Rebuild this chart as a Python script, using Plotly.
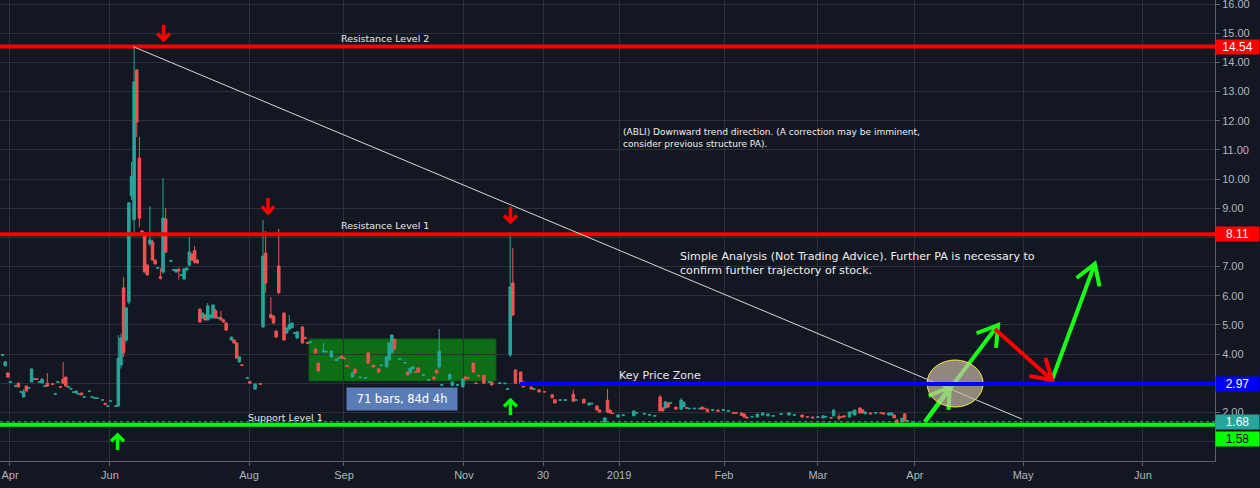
import math
import plotly.graph_objects as go

# ---------------- data (bar index, OHLC) ----------------
bar = [1, 2, 3, 4, 6, 7, 8, 9, 10, 11,
       12, 13, 14, 15, 16, 17, 18, 20, 21, 22,
       23, 24, 25, 26, 27, 28, 29, 30, 31, 32,
       34, 35, 36, 37, 39, 40, 41, 42, 44, 45,
       46, 47, 48, 49, 50, 51, 52, 53, 54, 55,
       56, 57, 58, 59, 60, 61, 62, 63, 65, 66,
       67, 68, 69, 70, 71, 72, 73, 74, 75, 76,
       77, 78, 79, 80, 81, 82, 83, 84, 85, 86,
       88, 89, 90, 91, 92, 94, 95, 97, 99, 100,
       101, 103, 104, 105, 106, 108, 109, 110, 111, 112,
       113, 115, 116, 117, 118, 120, 121, 123, 124, 126,
       128, 129, 130, 131, 132, 134, 135, 137, 139, 140,
       142, 144, 145, 147, 148, 149, 150, 152, 154, 155,
       156, 157, 158, 159, 161, 163, 165, 166, 167, 168,
       171, 172, 174, 176, 177, 178, 180, 181, 182, 184,
       186, 187, 190, 192, 193, 194, 195, 196, 198, 199,
       200, 202, 203, 205, 207, 210, 211, 213, 215, 218,
       219, 222, 224, 225, 227, 228, 230, 231, 232, 233,
       235, 237, 241, 242, 245, 247, 249, 251, 252, 253,
       254, 255, 257, 259, 260, 261, 262, 264, 266, 267,
       268, 269, 271, 273, 275, 277, 279, 280, 282, 283,
       284, 286, 288, 290, 292, 294, 297, 300, 302, 305,
       307, 309, 311, 313, 314, 316, 317, 319, 320, 321,
       323, 324, 325, 327, 328, 329, 331, 333, 335, 336,
       338, 339, 340, 341, 343, 344, 345, 347]

open_ = [3.95, 3.60, 3.35, 3.02, 2.89, 3.00, 2.69, 2.53, 2.90, 2.83,
         3.04, 3.13, 3.15, 3.03, 3.01, 2.89, 3.00, 2.98, 2.62, 3.03,
         2.88, 3.14, 3.21, 2.86, 2.80, 2.69, 2.66, 2.62, 2.66, 2.52,
         2.72, 2.52, 2.48, 2.48, 2.42, 2.31, 2.21, 2.38, 2.21, 2.22,
         3.62, 6.27, 4.48, 5.78, 9.42, 8.60, 13.74, 10.72, 8.22, 8.15,
         7.05, 7.78, 7.84, 7.22, 6.94, 6.65, 6.81, 8.63, 7.18, 6.87,
         6.81, 6.90, 6.70, 6.57, 6.88, 7.05, 7.43, 7.55, 7.22, 5.54,
         5.24, 5.34, 5.17, 5.24, 5.24, 5.48, 5.23, 5.24, 5.17, 5.06,
         4.48, 4.48, 4.38, 3.73, 3.63, 3.17, 3.06, 2.80, 2.98, 4.93,
         7.46, 5.35, 5.30, 4.79, 7.02, 5.40, 4.72, 4.86, 4.90, 4.71,
         4.55, 4.93, 4.57, 4.40, 4.40, 4.17, 3.69, 4.08, 4.07, 3.90,
         3.77, 3.85, 3.93, 3.86, 3.60, 3.21, 3.48, 3.19, 3.17, 4.04,
         3.62, 3.49, 3.60, 3.56, 3.80, 4.04, 4.50, 3.82, 3.69, 3.38,
         3.35, 3.49, 3.39, 3.52, 3.27, 3.10, 3.21, 3.45, 3.56, 2.93,
         3.14, 2.92, 2.93, 2.87, 3.21, 3.19, 3.69, 3.01, 3.27, 3.27,
         3.03, 3.04, 2.99, 2.98, 2.79, 3.97, 6.44, 3.45, 3.38, 3.04,
         2.95, 2.87, 2.79, 2.77, 2.71, 2.60, 2.43, 2.41, 2.41, 2.62,
         2.41, 2.45, 2.25, 2.29, 2.22, 2.08, 1.67, 2.42, 2.08, 1.97,
         1.84, 1.89, 1.88, 1.97, 1.94, 1.90, 1.87, 2.53, 2.15, 2.15,
         2.32, 2.31, 2.18, 2.11, 2.20, 2.16, 2.12, 2.12, 2.12, 2.18,
         2.14, 2.11, 2.07, 2.08, 2.07, 2.04, 2.00, 1.99, 1.98, 1.94,
         1.84, 1.84, 1.84, 1.91, 1.88, 1.87, 1.93, 1.91, 1.90, 1.91,
         1.85, 1.84, 1.83, 1.81, 1.84, 1.82, 1.88, 1.85, 1.85, 1.88,
         1.84, 1.98, 1.91, 2.15, 2.08, 1.95, 1.98, 1.97, 1.99, 1.98,
         1.91, 1.91, 1.91, 1.74, 1.67, 1.95, 1.69, 1.67]

high = [3.99, 3.76, 3.38, 3.06, 2.92, 3.02, 2.72, 2.80, 2.92, 2.85,
        3.50, 3.16, 3.16, 3.05, 3.15, 2.91, 3.35, 2.99, 2.64, 3.05,
        2.89, 3.73, 3.22, 2.88, 2.81, 2.71, 2.74, 2.64, 2.68, 2.54,
        2.74, 2.54, 2.50, 2.50, 2.44, 2.33, 2.23, 2.40, 2.23, 4.65,
        4.70, 6.64, 5.60, 9.20, 10.58, 14.59, 13.76, 11.44, 8.24, 8.17,
        7.07, 9.07, 7.92, 7.24, 6.96, 6.95, 10.04, 9.00, 7.20, 6.89,
        6.92, 6.97, 6.72, 6.93, 6.96, 8.01, 7.45, 7.70, 7.24, 5.56,
        5.42, 5.36, 5.75, 5.36, 5.70, 5.55, 5.25, 5.48, 5.19, 5.08,
        4.60, 4.50, 4.40, 3.92, 3.64, 3.19, 3.08, 2.99, 2.99, 8.60,
        8.22, 5.95, 5.32, 4.81, 8.29, 5.45, 4.91, 5.34, 5.08, 4.73,
        4.78, 4.95, 4.59, 4.42, 4.43, 4.19, 3.71, 4.38, 4.10, 4.12,
        3.85, 3.87, 3.95, 3.87, 3.61, 3.37, 3.50, 3.21, 3.19, 4.06,
        3.64, 3.51, 3.62, 3.92, 4.40, 4.67, 4.52, 3.84, 3.71, 3.40,
        3.54, 3.57, 3.40, 3.54, 3.29, 3.12, 3.23, 3.47, 4.86, 2.95,
        3.33, 3.06, 2.95, 3.16, 3.23, 3.20, 3.71, 3.02, 3.28, 3.29,
        3.05, 3.06, 3.01, 3.00, 2.82, 8.18, 7.64, 3.47, 3.40, 3.06,
        2.96, 2.89, 2.81, 2.79, 2.72, 2.62, 2.45, 2.43, 2.43, 2.77,
        2.43, 2.47, 2.33, 2.31, 2.24, 2.09, 1.82, 2.80, 2.10, 1.98,
        1.92, 1.91, 2.06, 1.99, 1.96, 1.92, 1.89, 2.60, 2.17, 2.37,
        2.34, 2.33, 2.20, 2.49, 2.36, 2.17, 2.14, 2.14, 2.14, 2.20,
        2.15, 2.12, 2.09, 2.09, 2.09, 2.06, 2.01, 2.00, 1.99, 1.95,
        1.85, 1.86, 1.95, 1.99, 1.95, 1.89, 1.95, 1.99, 1.92, 1.92,
        1.86, 1.85, 1.85, 1.89, 1.86, 1.83, 2.09, 1.95, 1.86, 1.89,
        2.02, 2.02, 2.09, 2.17, 2.10, 2.02, 1.99, 1.99, 2.00, 1.99,
        1.99, 1.99, 1.92, 1.75, 1.81, 1.97, 1.71, 1.69]

low = [3.93, 3.58, 3.19, 3.01, 2.88, 2.86, 2.68, 2.52, 2.72, 2.83,
       3.03, 3.12, 3.12, 3.02, 3.00, 2.88, 2.88, 2.95, 2.61, 3.02,
       2.85, 2.99, 2.89, 2.85, 2.79, 2.68, 2.65, 2.61, 2.59, 2.51,
       2.71, 2.51, 2.47, 2.47, 2.41, 2.27, 2.20, 2.37, 2.20, 2.20,
       3.50, 3.90, 4.40, 5.70, 9.28, 8.08, 11.44, 8.36, 8.16, 6.79,
       6.69, 7.70, 7.20, 7.07, 6.93, 6.55, 6.75, 7.45, 7.17, 6.86,
       6.80, 6.55, 6.69, 6.55, 6.87, 7.00, 7.20, 7.10, 7.10, 5.08,
       5.22, 5.15, 5.15, 5.22, 5.22, 5.22, 5.22, 5.15, 5.08, 4.80,
       4.46, 4.36, 3.84, 3.71, 3.60, 3.16, 2.99, 2.78, 2.96, 4.90,
       6.10, 5.20, 5.04, 4.56, 6.05, 4.45, 4.70, 4.80, 4.88, 4.70,
       4.53, 4.36, 4.52, 4.34, 4.39, 4.02, 3.40, 4.05, 4.06, 3.88,
       3.76, 3.84, 3.84, 3.83, 3.57, 3.20, 3.33, 3.18, 3.16, 3.67,
       3.55, 3.37, 3.59, 3.54, 3.78, 4.02, 4.15, 3.81, 3.68, 3.27,
       3.34, 3.48, 3.36, 3.37, 3.26, 3.09, 3.13, 3.34, 3.50, 2.92,
       3.12, 2.91, 2.92, 2.86, 3.13, 3.16, 3.37, 2.98, 3.24, 2.99,
       3.02, 2.93, 2.98, 2.97, 2.78, 3.90, 5.30, 2.99, 2.99, 2.86,
       2.93, 2.79, 2.78, 2.69, 2.69, 2.49, 2.31, 2.40, 2.40, 2.35,
       2.40, 2.31, 2.24, 2.28, 2.07, 2.00, 1.66, 1.98, 1.97, 1.95,
       1.83, 1.88, 1.87, 1.96, 1.93, 1.89, 1.86, 2.04, 2.04, 2.14,
       2.17, 2.30, 2.10, 2.10, 2.19, 2.14, 2.11, 2.11, 2.11, 2.10,
       2.12, 2.01, 2.06, 2.03, 2.06, 2.03, 1.96, 1.97, 1.88, 1.83,
       1.80, 1.83, 1.83, 1.90, 1.87, 1.86, 1.92, 1.90, 1.89, 1.83,
       1.83, 1.80, 1.82, 1.80, 1.83, 1.80, 1.87, 1.72, 1.83, 1.84,
       1.83, 1.97, 1.90, 1.97, 1.97, 1.94, 1.94, 1.96, 1.97, 1.94,
       1.90, 1.90, 1.80, 1.63, 1.66, 1.69, 1.68, 1.66]

close = [3.98, 3.73, 3.21, 3.05, 2.91, 2.87, 2.71, 2.70, 2.73, 2.85,
         3.49, 3.15, 3.13, 3.05, 3.14, 2.90, 2.90, 2.96, 2.64, 3.05,
         2.86, 3.00, 2.90, 2.88, 2.81, 2.70, 2.73, 2.63, 2.60, 2.53,
         2.73, 2.53, 2.49, 2.49, 2.43, 2.28, 2.22, 2.39, 2.22, 3.86,
         4.55, 4.04, 5.58, 9.18, 10.10, 13.33, 11.95, 8.66, 8.18, 6.81,
         6.71, 7.91, 7.22, 7.09, 6.96, 6.60, 8.66, 7.50, 7.20, 6.89,
         6.90, 6.85, 6.72, 6.92, 6.95, 7.50, 7.22, 7.15, 7.12, 5.10,
         5.40, 5.17, 5.65, 5.34, 5.68, 5.24, 5.25, 5.17, 5.10, 4.82,
         4.58, 4.38, 3.86, 3.90, 3.61, 3.19, 3.00, 2.97, 2.97, 7.36,
         6.44, 5.25, 5.06, 4.58, 6.10, 4.48, 4.89, 5.00, 5.06, 4.73,
         4.76, 4.38, 4.53, 4.36, 4.42, 4.04, 3.42, 4.10, 4.09, 4.10,
         3.83, 3.87, 3.86, 3.84, 3.58, 3.35, 3.35, 3.21, 3.19, 3.69,
         3.56, 3.38, 3.62, 3.90, 4.38, 4.65, 4.17, 3.84, 3.71, 3.28,
         3.52, 3.56, 3.37, 3.38, 3.29, 3.12, 3.14, 3.35, 4.10, 2.95,
         3.31, 3.04, 2.95, 3.14, 3.14, 3.17, 3.38, 2.99, 3.25, 3.00,
         3.05, 2.94, 3.01, 3.00, 2.81, 6.30, 5.34, 3.00, 3.00, 2.87,
         2.94, 2.80, 2.81, 2.70, 2.70, 2.50, 2.32, 2.43, 2.43, 2.38,
         2.43, 2.32, 2.32, 2.31, 2.08, 2.01, 1.81, 2.02, 1.98, 1.96,
         1.91, 1.91, 2.05, 1.99, 1.96, 1.92, 1.89, 2.05, 2.05, 2.36,
         2.18, 2.33, 2.11, 2.42, 2.35, 2.15, 2.14, 2.14, 2.14, 2.11,
         2.13, 2.02, 2.09, 2.04, 2.09, 2.06, 1.97, 1.98, 1.89, 1.84,
         1.81, 1.86, 1.94, 1.98, 1.94, 1.89, 1.95, 1.98, 1.92, 1.84,
         1.84, 1.81, 1.85, 1.88, 1.86, 1.81, 2.08, 1.80, 1.84, 1.85,
         2.01, 2.01, 2.08, 1.98, 1.98, 2.01, 1.95, 1.99, 1.98, 1.95,
         1.98, 1.98, 1.81, 1.64, 1.80, 1.70, 1.71, 1.68]

tick_bars = [3.8, 41.8, 94.7, 130.8, 176.4, 206.5, 235.4, 275.3, 311.0, 347.9, 389.0, 434.6]
tick_text = ["Apr", "Jun", "Aug", "Sep", "Nov", "30", "2019", "Feb", "Mar", "Apr", "May", "Jun"]

price_ticks = list(range(1, 17))
hidden_price_ticks = [1, 3, 8]   # covered by the price-scale labels

level_names = ["Resistance Level 2", "Resistance Level 1", "Support Level 1"]
level_prices = [14.54, 8.11, 1.58]
level_colors = ["#ff0000", "#ff0000", "#00ff00"]
level_label_pos = [(146.4, 14.83), (146.4, 8.39), (108.4, 1.84)]

key_zone_price = 2.97
key_zone_start = 197.7
last_price = 1.68

trend_start = (50.6, 14.54)
trend_end = (388.6, 1.77)

range_box = dict(x0=117.5, x1=188.6, y0=3.077, y1=4.515)
range_label = "71 bars, 84d 4h"
range_label_pos = (152.9, 2.46)

down_arrow_tips = [(62.2, 14.77), (101.9, 8.84), (194.1, 8.53)]
up_arrow_tips = [(44.7, 1.225), (194.1, 2.42)]

# projected path arrows: (tail, tip)
green_arrows = [((351.7, 1.67), (361.2, 2.87)), ((351.7, 1.67), (379.5, 4.995)), ((400.0, 3.11), (416.3, 7.09))]
red_arrows = [((378.3, 4.86), (400.0, 3.11))]
ellipse_box = dict(x0=352.5, x1=373.8, y0=2.184, y1=3.795)

note1 = "(ABLI) Downward trend direction. (A correction may be imminent,<br>consider previous structure PA)."
note1_pos = (236.3, 11.85)
note2 = "Simple Analysis (Not Trading Advice). Further PA is necessary to<br>confirm further trajectory of stock."
note2_pos = (257.8, 7.64)

# ---------------- layout geometry ----------------
W, H = 1260, 488
ML, MR, MT, MB = 0, 45, 0, 27
X_RANGE = [0, 462]
Y_RANGE = [0.333, 16.137]
PXX = (W - ML - MR) / (X_RANGE[1] - X_RANGE[0])
PXY = (H - MT - MB) / (Y_RANGE[1] - Y_RANGE[0])

BG = "#131722"
GRID = "#2c303c"
TXT = "#b2b5be"
UP = "#26a69a"
DN = "#ef5350"


def to_px(x, y):
    return x * PXX, -y * PXY


def to_data(px, py):
    return px / PXX, -py / PXY


def legs(tip, tail, L, ang):
    tx, ty = to_px(*tip)
    bx, by = to_px(*tail)
    dx, dy = bx - tx, by - ty
    n = math.hypot(dx, dy)
    ux, uy = dx / n, dy / n
    out = []
    for s in (1, -1):
        a = math.radians(ang) * s
        rx = ux * math.cos(a) - uy * math.sin(a)
        ry = ux * math.sin(a) + uy * math.cos(a)
        out.append(to_data(tx + L * rx, ty + L * ry))
    return out


def arrow_path(pairs, L, ang):
    xs, ys = [], []
    for tail, tip in pairs:
        xs += [tail[0], tip[0], None]
        ys += [tail[1], tip[1], None]
        a, b = legs(tip, tail, L, ang)
        xs += [a[0], tip[0], b[0], None]
        ys += [a[1], tip[1], b[1], None]
    return xs, ys


fig = go.Figure()

fig.add_trace(go.Candlestick(
    x=bar, open=open_, high=high, low=low, close=close,
    increasing=dict(line=dict(color=UP, width=1), fillcolor=UP),
    decreasing=dict(line=dict(color=DN, width=1), fillcolor=DN),
    whiskerwidth=0, hoverinfo="skip", showlegend=False,
))

# projected arrows
gx, gy = arrow_path(green_arrows, 23, 32)
fig.add_trace(go.Scatter(x=gx, y=gy, mode="lines", line=dict(color="#1aff1a", width=4),
                         hoverinfo="skip", showlegend=False))
rx, ry = arrow_path(red_arrows, 23, 32)
fig.add_trace(go.Scatter(x=rx, y=ry, mode="lines", line=dict(color="#ff0000", width=4),
                         hoverinfo="skip", showlegend=False))

# small marker arrows
small = []
for tip in down_arrow_tips:
    small.append(((tip[0], tip[1] + 15 / PXY), tip))
sx, sy = arrow_path(small, 9, 45)
fig.add_trace(go.Scatter(x=sx, y=sy, mode="lines", line=dict(color="#ff0000", width=3.5),
                         hoverinfo="skip", showlegend=False))
small = []
for tip in up_arrow_tips:
    small.append(((tip[0], tip[1] - 15 / PXY), tip))
ux_, uy_ = arrow_path(small, 9, 45)
fig.add_trace(go.Scatter(x=ux_, y=uy_, mode="lines", line=dict(color="#00ff00", width=3.5),
                         hoverinfo="skip", showlegend=False))

shapes = []
# range box
shapes.append(dict(type="rect", xref="x", yref="y", layer="below",
                   fillcolor="#0d6e16", line=dict(color="#0a5a10", width=1), **range_box))
shapes.append(dict(type="line", xref="x", yref="y", layer="below",
                   x0=range_box["x0"], x1=range_box["x1"],
                   y0=(range_box["y0"] + range_box["y1"]) / 2, y1=(range_box["y0"] + range_box["y1"]) / 2,
                   line=dict(color="#3f5f45", width=1, dash="dash")))
# last price dotted line
shapes.append(dict(type="line", xref="paper", yref="y", x0=0, x1=1, y0=last_price, y1=last_price,
                   line=dict(color=UP, width=1, dash="dot"), layer="above"))
# level lines
for p, c in zip(level_prices, level_colors):
    shapes.append(dict(type="line", xref="paper", yref="y", x0=0, x1=1, y0=p, y1=p,
                       line=dict(color=c, width=4), layer="above"))
# trend line
shapes.append(dict(type="line", xref="x", yref="y", x0=trend_start[0], y0=trend_start[1],
                   x1=trend_end[0], y1=trend_end[1], line=dict(color="#d8d8d8", width=1), layer="above"))
# ellipse
shapes.append(dict(type="circle", xref="x", yref="y", fillcolor="rgba(205,190,168,0.68)",
                   line=dict(color="#f5e94a", width=1), layer="above", **ellipse_box))
# key zone line
shapes.append(dict(type="line", xref="x", yref="y", x0=key_zone_start, x1=X_RANGE[1],
                   y0=key_zone_price, y1=key_zone_price, line=dict(color="#0000ff", width=4), layer="above"))

ann = []
LAB = "Liberation Sans"
for name, (lx, ly) in zip(level_names, level_label_pos):
    ann.append(dict(x=lx, y=ly, xref="x", yref="y", text=name, showarrow=False,
                    font=dict(family="DejaVu Sans", size=9.5, color="#e8e8e8"), xanchor="center", yanchor="middle"))
ann.append(dict(x=251, y=3.25, xref="x", yref="y", text="Key Price Zone", showarrow=False,
                font=dict(family="DejaVu Sans", size=11, color="#e8e8e8"), xanchor="center", yanchor="middle"))
ann.append(dict(x=note1_pos[0], y=note1_pos[1], xref="x", yref="y", text=note1, showarrow=False, align="left",
                font=dict(family="DejaVu Sans", size=9.05, color="#f0f0f0"), xanchor="left", yanchor="top"))
ann.append(dict(x=note2_pos[0], y=note2_pos[1], xref="x", yref="y", text=note2, showarrow=False, align="left",
                font=dict(family="DejaVu Sans", size=11.1, color="#f0f0f0"), xanchor="left", yanchor="top"))
ann.append(dict(x=range_label_pos[0], y=range_label_pos[1], xref="x", yref="y",
                text=range_label, showarrow=False, bgcolor="#5a7cb6", borderpad=3, width=104, height=16,
                font=dict(family="DejaVu Sans", size=11.5, color="#ffffff"), xanchor="center", yanchor="middle"))

# price scale labels
price_labels = [(14.54, "#ff0000", "#ffffff", 0), (8.11, "#ff0000", "#ffffff", 0),
                (key_zone_price, "#0000ff", "#ffffff", 0), (last_price, UP, "#ffffff", 0),
                (1.58, "#00ff00", "#000000", -14)]
for p, bg, fc, shift in price_labels:
    ann.append(dict(x=1, y=p, xref="paper", yref="y", text=f"{p:.2f}", showarrow=False,
                    xanchor="left", yanchor="middle", yshift=shift, bgcolor=bg, borderpad=1, width=41, height=12,
                    font=dict(family=LAB, size=12, color=fc), align="center"))

price_tick_text = ["" if v in hidden_price_ticks else f"{v:.2f}" for v in price_ticks]

fig.update_layout(
    width=W, height=H, margin=dict(l=ML, r=MR, t=MT, b=MB, pad=0, autoexpand=False),
    paper_bgcolor=BG, plot_bgcolor=BG, showlegend=False,
    shapes=shapes, annotations=ann, boxgap=0.05, boxgroupgap=0,
    xaxis=dict(range=X_RANGE, tickvals=tick_bars, ticktext=tick_text, showgrid=True, gridcolor=GRID,
               zeroline=False, showline=True, linecolor="#5d606b", ticks="outside", ticklen=4,
               tickcolor="#5d606b", tickfont=dict(family=LAB, size=11, color=TXT),
               rangeslider=dict(visible=False), fixedrange=True, automargin=False),
    yaxis=dict(range=Y_RANGE, side="right", tickvals=price_ticks, ticktext=price_tick_text, showgrid=True,
               gridcolor=GRID, zeroline=False, showline=True, linecolor="#5d606b", ticks="outside",
               ticklen=4, tickcolor="#5d606b", tickfont=dict(family=LAB, size=11, color=TXT),
               automargin=False, ticklabeloverflow="allow", fixedrange=True),
)

fig.write_html("out.html", config={"displayModeBar": False, "staticPlot": True},
               post_script="document.body.style.margin='0';document.body.style.overflow='hidden';")
